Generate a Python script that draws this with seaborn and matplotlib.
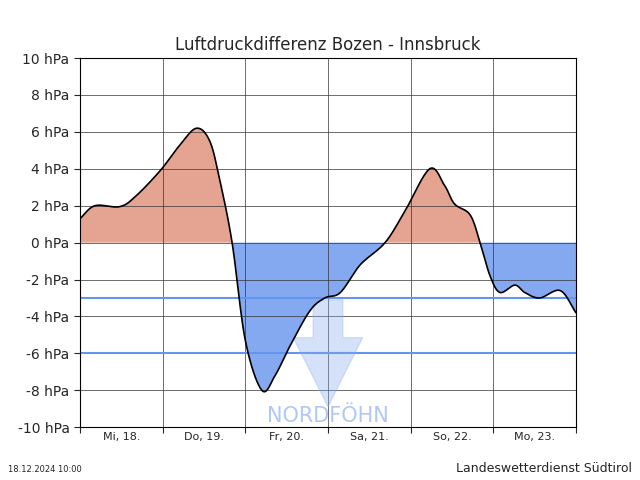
import numpy as np
import matplotlib
matplotlib.use("Agg")
import matplotlib.pyplot as plt
import seaborn as sns
from matplotlib.patches import Polygon

days = ["Mi, 18.", "Do, 19.", "Fr, 20.", "Sa, 21.", "So, 22.", "Mo, 23."]
t_pts = [0.0, 0.18, 0.48, 0.67, 0.97, 1.21, 1.41, 1.57, 1.69, 1.84, 2.0, 2.2, 2.36, 2.54, 2.78, 2.96, 3.15, 3.39, 3.69, 3.93, 4.23, 4.41, 4.53, 4.72, 4.84, 4.96, 5.08, 5.26, 5.38, 5.56, 5.81, 6.0]
p_pts = [1.3, 2.0, 1.95, 2.5, 3.9, 5.3, 6.2, 5.5, 3.4, 0.0, -5.3, -8.0, -7.2, -5.6, -3.7, -3.0, -2.7, -1.2, 0.0, 1.7, 4.0, 3.1, 2.1, 1.5, 0.0, -1.8, -2.7, -2.3, -2.7, -3.0, -2.6, -3.8]

def catmull(x, y, n=20):
    x = np.asarray(x); y = np.asarray(y)
    X = np.concatenate([[2*x[0]-x[1]], x, [2*x[-1]-x[-2]]])
    Y = np.concatenate([[2*y[0]-y[1]], y, [2*y[-1]-y[-2]]])
    xs, ys = [], []
    s = np.linspace(0, 1, n, endpoint=False)
    for i in range(1, len(X)-2):
        for arr, out in ((X, xs), (Y, ys)):
            p0, p1, p2, p3 = arr[i-1:i+3]
            out.extend(0.5*((2*p1) + (-p0+p2)*s + (2*p0-5*p1+4*p2-p3)*s**2 + (-p0+3*p1-3*p2+p3)*s**3))
    xs.append(x[-1]); ys.append(y[-1])
    return np.array(xs), np.array(ys)

tx, py = catmull(t_pts, p_pts)

sns.set_style("white")
fig, ax = plt.subplots(figsize=(6.4, 4.8), dpi=100)
fig.subplots_adjust(left=0.125, right=0.9, bottom=0.11, top=0.879)
ax.fill_between(tx, py, 0, where=py >= 0, interpolate=True, color="#E5A491", lw=0)
ax.fill_between(tx, py, 0, where=py <= 0, interpolate=True, color="#84A9F0", lw=0)
sns.lineplot(x=tx, y=py, ax=ax, color="black", lw=1.2, sort=False, zorder=5)
ax.axhline(-3, color="#6495ED", lw=1.5, zorder=4)
ax.axhline(-6, color="#6495ED", lw=1.5, zorder=4)

arrow = Polygon([(2.82, -3.1), (3.18, -3.1), (3.18, -5.15), (3.42, -5.15), (3.0, -8.9),
                 (2.58, -5.15), (2.82, -5.15)], closed=True, facecolor="#84A9F0", alpha=0.35,
                edgecolor="#84A9F0", lw=0.8, zorder=4)
ax.add_patch(arrow)
ax.text(3.0, -9.4, "NORDFÖHN", color="#AFC8F5", fontsize=15, ha="center", va="center", zorder=6)

ax.set_xlim(0, 6)
ax.set_ylim(-10, 10)
ax.set_yticks(range(-10, 11, 2))
ax.set_yticklabels([f"{v} hPa" for v in range(-10, 11, 2)], fontsize=10)
ax.set_xticks(range(7))
ax.set_xticklabels([])
ax.set_xticks(np.arange(6) + 0.5, minor=True)
ax.set_xticklabels(days, minor=True, fontsize=8)
ax.tick_params(axis="x", which="minor", length=0)
ax.tick_params(axis="both", which="major", length=4, direction="out", left=True, bottom=True)
ax.grid(True, which="major", color="#333333", lw=0.5, zorder=3)
ax.set_axisbelow(False)
for sp in ax.spines.values():
    sp.set_color("black")
    sp.set_zorder(7)
ax.set_title("Luftdruckdifferenz Bozen - Innsbruck", fontsize=12)
fig.text(0.012, 0.017, "18.12.2024 10:00", fontsize=6)
fig.text(0.988, 0.017, "Landeswetterdienst Südtirol", fontsize=9, ha="right")
fig.savefig("out.png", dpi=100)
